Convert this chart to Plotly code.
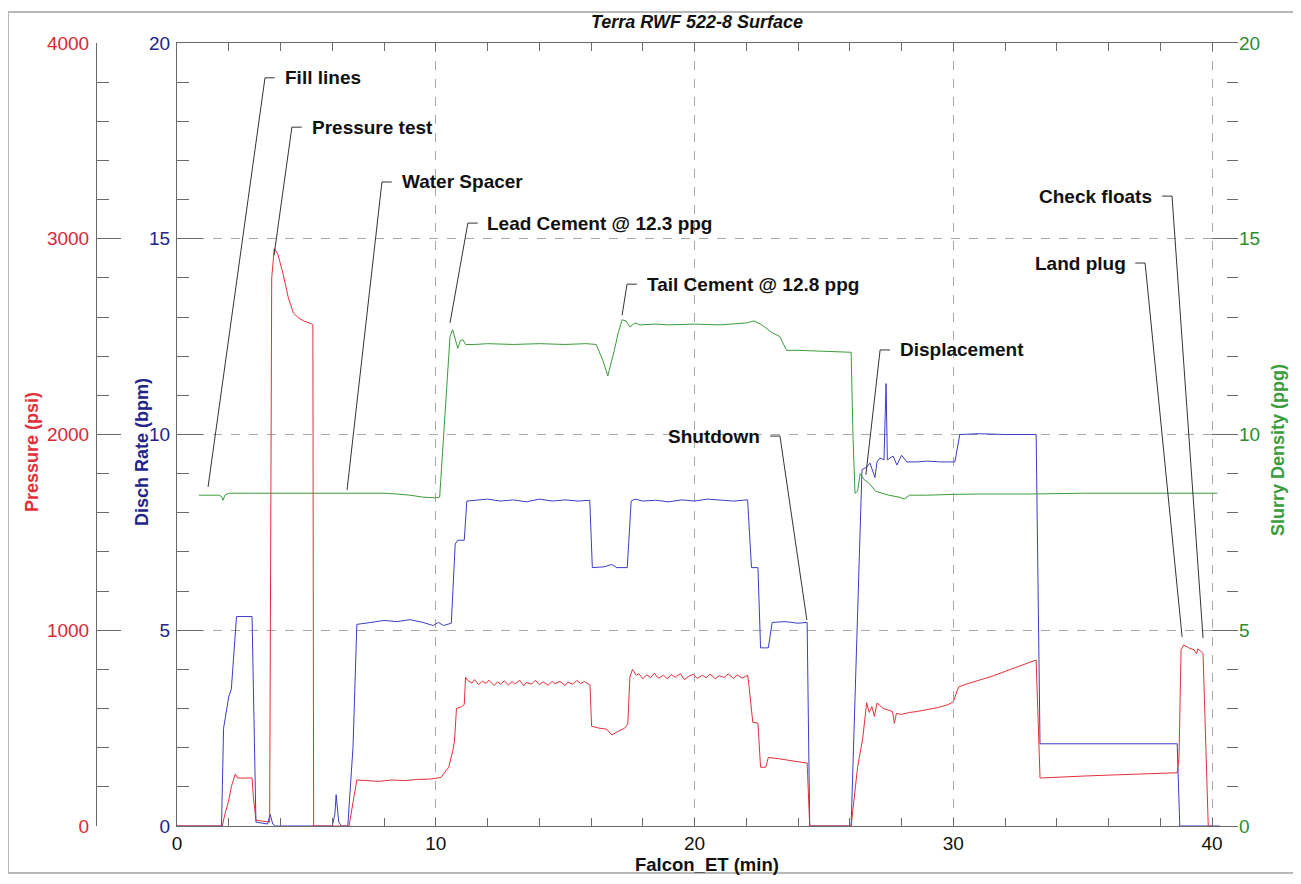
import plotly.graph_objects as go

# ---------------- data ----------------
# Discharge rate, bpm  (time in minutes, value)
RATE = [
    (0.0, 0.0), (1.72, 0.0), (1.8, 2.5), (1.9, 2.9), (2.0, 3.3), (2.1, 3.5), (2.2, 4.5),
    (2.3, 5.35), (2.9, 5.35), (2.97, 3.0), (3.05, 0.1), (3.5, 0.05), (3.6, 0.3), (3.7, 0.05),
    (3.8, 0.0), (6.0, 0.0), (6.1, 0.3), (6.15, 0.8), (6.25, 0.1), (6.35, 0.0), (6.6, 0.0),
    (6.8, 2.0), (6.95, 5.15), (7.5, 5.2), (8.0, 5.25), (8.5, 5.22), (9.0, 5.27), (9.5, 5.2),
    (9.9, 5.12), (10.1, 5.2), (10.3, 5.12), (10.6, 5.18), (10.75, 7.2), (10.85, 7.3),
    (11.1, 7.3), (11.2, 8.3), (11.5, 8.32), (12.0, 8.35), (12.5, 8.3), (13.0, 8.33),
    (13.5, 8.28), (14.0, 8.35), (14.5, 8.3), (15.0, 8.33), (15.5, 8.3), (15.95, 8.32),
    (16.05, 6.6), (16.5, 6.62), (16.8, 6.68), (17.0, 6.6), (17.4, 6.6), (17.55, 8.3),
    (17.7, 8.35), (18.0, 8.3), (18.5, 8.32), (19.0, 8.28), (19.5, 8.33), (20.0, 8.3),
    (20.5, 8.35), (21.0, 8.32), (21.5, 8.3), (22.05, 8.33), (22.2, 6.6), (22.45, 6.6),
    (22.55, 4.55), (22.85, 4.55), (23.0, 5.2), (23.5, 5.22), (24.0, 5.18), (24.35, 5.2),
    (24.45, 0.0), (26.05, 0.0), (26.25, 4.5), (26.47, 9.1), (26.66, 9.17), (26.78, 9.27),
    (26.97, 8.9), (27.05, 9.3), (27.17, 9.4), (27.32, 9.35), (27.4, 11.3), (27.45, 9.35),
    (27.67, 9.45), (27.82, 9.22), (28.0, 9.47), (28.2, 9.3), (28.6, 9.3), (29.0, 9.32),
    (29.5, 9.3), (30.06, 9.3), (30.25, 10.0), (31.0, 10.02), (32.0, 10.0), (33.2, 10.0),
    (33.35, 2.1), (35.0, 2.1), (38.65, 2.1), (38.75, 0.0), (40.3, 0.0),
]

# Treating pressure, psi
PRESSURE = [
    (0.0, 0), (1.75, 0), (1.85, 60), (2.0, 130), (2.1, 200), (2.25, 265), (2.35, 245),
    (2.9, 245), (2.95, 150), (3.05, 30), (3.3, 25), (3.58, 20), (3.66, 2800), (3.76, 2950),
    (3.9, 2920), (4.1, 2820), (4.3, 2700), (4.5, 2620), (4.7, 2595), (4.9, 2580),
    (5.2, 2565), (5.25, 2560), (5.28, 0), (6.65, 0), (6.8, 120), (6.95, 235), (7.3, 232),
    (7.8, 228), (8.3, 235), (8.8, 232), (9.3, 238), (9.8, 240), (10.2, 248), (10.5, 300),
    (10.65, 380), (10.72, 430), (10.8, 600), (11.0, 610), (11.1, 620), (11.15, 760),
    (11.25, 742), (11.4, 730), (11.5, 748), (11.65, 722), (11.8, 740), (11.95, 728),
    (12.05, 745), (12.25, 718), (12.4, 736), (12.5, 724), (12.65, 742), (12.8, 720),
    (12.95, 738), (13.05, 726), (13.25, 744), (13.4, 716), (13.5, 733), (13.7, 725),
    (13.85, 745), (14.0, 722), (14.15, 736), (14.35, 719), (14.5, 740), (14.6, 727),
    (14.8, 738), (15.0, 718), (15.1, 735), (15.3, 724), (15.45, 744), (15.6, 728),
    (15.75, 738), (15.96, 720), (16.02, 510), (16.3, 500), (16.6, 495), (16.8, 465),
    (17.0, 480), (17.3, 500), (17.42, 520), (17.5, 760), (17.6, 800), (17.75, 770),
    (17.85, 778), (18.0, 752), (18.15, 772), (18.3, 758), (18.45, 780), (18.6, 755),
    (18.8, 770), (18.95, 752), (19.1, 774), (19.25, 760), (19.45, 778), (19.6, 748),
    (19.8, 766), (19.95, 775), (20.1, 754), (20.3, 770), (20.45, 757), (20.6, 776),
    (20.8, 752), (20.95, 768), (21.15, 759), (21.3, 777), (21.5, 754), (21.65, 771),
    (21.85, 756), (22.05, 770), (22.1, 720), (22.25, 530), (22.45, 525), (22.55, 300),
    (22.75, 300), (22.85, 350), (23.2, 345), (23.6, 335), (24.0, 328), (24.35, 322),
    (24.45, 0), (26.05, 0), (26.3, 300), (26.5, 450), (26.65, 630), (26.75, 580),
    (26.85, 610), (26.95, 560), (27.05, 628), (27.3, 600), (27.5, 590), (27.65, 585),
    (27.72, 525), (27.8, 575), (28.0, 570), (28.3, 580), (28.6, 585), (29.0, 595),
    (29.4, 605), (29.8, 620), (30.0, 635), (30.2, 710), (30.5, 725), (31.0, 745),
    (31.5, 765), (32.0, 790), (32.5, 815), (33.0, 840), (33.2, 848), (33.35, 245),
    (34.0, 250), (35.0, 255), (36.0, 260), (37.0, 265), (38.0, 268), (38.65, 272),
    (38.72, 350), (38.8, 900), (38.9, 925), (39.1, 910), (39.3, 900), (39.4, 880),
    (39.45, 905), (39.55, 895), (39.65, 880), (39.85, 0), (40.0, 0),
]

# Slurry density, ppg
DENSITY = [
    (0.85, 8.45), (1.2, 8.45), (1.6, 8.45), (1.72, 8.42), (1.78, 8.32), (1.85, 8.45),
    (2.0, 8.5), (3.0, 8.5), (4.0, 8.5), (5.0, 8.5), (6.0, 8.5), (7.0, 8.5), (8.0, 8.5),
    (8.5, 8.48), (9.0, 8.45), (9.5, 8.4), (10.0, 8.38), (10.15, 8.4), (10.3, 10.0),
    (10.45, 11.6), (10.55, 12.5), (10.65, 12.68), (10.75, 12.4), (10.85, 12.2),
    (10.95, 12.4), (11.05, 12.42), (11.15, 12.3), (11.5, 12.3), (12.0, 12.32),
    (13.0, 12.3), (14.0, 12.32), (15.0, 12.3), (15.8, 12.32), (16.2, 12.3), (16.45, 11.9),
    (16.65, 11.5), (16.8, 11.9), (16.9, 12.15), (17.05, 12.6), (17.2, 12.93),
    (17.35, 12.9), (17.5, 12.75), (17.7, 12.85), (17.9, 12.8), (18.5, 12.82),
    (19.0, 12.8), (20.0, 12.82), (21.0, 12.8), (22.0, 12.85), (22.3, 12.9), (22.6, 12.8),
    (23.0, 12.6), (23.3, 12.5), (23.55, 12.15), (24.0, 12.15), (25.0, 12.12),
    (26.05, 12.1), (26.12, 10.0), (26.2, 8.5), (26.3, 8.55), (26.4, 9.0), (26.55, 8.85),
    (26.75, 8.75), (27.0, 8.55), (27.5, 8.45), (27.9, 8.4), (28.1, 8.35), (28.3, 8.45),
    (29.0, 8.45), (30.0, 8.47), (31.0, 8.48), (33.0, 8.48), (35.0, 8.5), (40.2, 8.5),
]

# Event callouts: label, event time (min), event level (in rate-axis units)
EVENT_LABELS = ["Fill lines", "Pressure test", "Water Spacer", "Lead Cement @ 12.3 ppg",
                "Tail Cement @ 12.8 ppg", "Displacement", "Shutdown", "Check floats",
                "Land plug"]
EVENT_TIME = [1.20, 3.75, 6.57, 10.55, 17.20, 26.62, 24.34, 39.65, 38.84]
EVENT_LEVEL = [8.66, 14.58, 8.58, 12.85, 13.05, 8.97, 5.26, 4.80, 4.83]

X_TICKS = [0, 10, 20, 30, 40]
RATE_TICKS = [0, 5, 10, 15, 20]
PRESSURE_TICKS = [0, 1000, 2000, 3000, 4000]
DENSITY_TICKS = [0, 5, 10, 15, 20]

# ---------------- layout helpers (placement of callout text) ----------------
# (bend x, text y, side) in axis units; side 'L' = leader on left of text
CALLOUT_LAYOUT = [
    (3.40, 19.11, "L"), (4.44, 17.85, "L"), (7.92, 16.45, "L"), (11.24, 15.40, "L"),
    (17.39, 13.84, "L"), (27.17, 12.16, "L"), (23.30, 9.96, "R"), (38.45, 16.09, "R"),
    (37.41, 14.38, "R"),
]
HOOK = 0.38      # length of the short horizontal hook, minutes
GAP = 0.3

FONT = "Liberation Sans, Arial, sans-serif"
RED, BLUE, GREEN = "#e2303a", "#3c3cc4", "#3a9c3a"
RED_T, BLUE_T, GREEN_T = "#d42a36", "#23238a", "#2e8c2e"
AXC = "#6a6a6a"
GRID = "#a9a9a9"

# page geometry
OX, OY = 8, 8
W, H = 1285, 868
PL, PR, PT, PB = 96, 1238, 43, 826
PLOT_L = 177


def px(xp):
    return (xp - PL) / (PR - PL)


def py(yp):
    return (PB - yp) / (PB - PT)


fig = go.Figure()

fig.add_trace(go.Scatter(x=[p[0] for p in PRESSURE], y=[p[1] for p in PRESSURE],
                         mode="lines", line=dict(color=RED, width=1), yaxis="y3",
                         name="Pressure"))
fig.add_trace(go.Scatter(x=[p[0] for p in RATE], y=[p[1] for p in RATE],
                         mode="lines", line=dict(color=BLUE, width=1), yaxis="y",
                         name="Disch Rate"))
fig.add_trace(go.Scatter(x=[p[0] for p in DENSITY], y=[p[1] for p in DENSITY],
                         mode="lines", line=dict(color=GREEN, width=1), yaxis="y2",
                         name="Slurry Density"))

shapes = []
annotations = []
for lab, t, v, (bx, ty, side) in zip(EVENT_LABELS, EVENT_TIME, EVENT_LEVEL, CALLOUT_LAYOUT):
    shapes.append(dict(type="line", xref="x", yref="y", x0=t, y0=v, x1=bx, y1=ty,
                       line=dict(color="#333333", width=1)))
    if side == "L":
        hx = bx + HOOK
        shapes.append(dict(type="line", xref="x", yref="y", x0=bx, y0=ty, x1=hx, y1=ty,
                           line=dict(color="#333333", width=1)))
        annotations.append(dict(x=hx + GAP, y=ty, xref="x", yref="y", text="<b>%s</b>" % lab,
                                showarrow=False, xanchor="left", yanchor="middle",
                                font=dict(family=FONT, size=19, color="#111111")))
    else:
        hx = bx - HOOK
        shapes.append(dict(type="line", xref="x", yref="y", x0=hx, y0=ty, x1=bx, y1=ty,
                           line=dict(color="#333333", width=1)))
        annotations.append(dict(x=hx - GAP, y=ty, xref="x", yref="y", text="<b>%s</b>" % lab,
                                showarrow=False, xanchor="right", yanchor="middle",
                                font=dict(family=FONT, size=19, color="#111111")))

# outer frame
shapes.append(dict(type="rect", xref="paper", yref="paper", x0=px(OX), x1=px(1320),
                   y0=py(OY + H - 3), y1=py(12), line=dict(color="#b8b8b8", width=2),
                   layer="below"))

# title and axis titles
annotations.append(dict(x=px(697), y=py(22), xref="paper", yref="paper",
                        text="<b><i>Terra RWF 522-8 Surface</i></b>", showarrow=False,
                        xanchor="center", yanchor="middle",
                        font=dict(family=FONT, size=18, color="#111111")))
annotations.append(dict(x=px(707), y=py(864), xref="paper", yref="paper",
                        text="<b>Falcon_ET (min)</b>", showarrow=False,
                        xanchor="center", yanchor="middle",
                        font=dict(family=FONT, size=18.5, color="#111111")))
annotations.append(dict(x=px(32), y=py(452), xref="paper", yref="paper", textangle=-90,
                        text="<b>Pressure (psi)</b>", showarrow=False,
                        xanchor="center", yanchor="middle",
                        font=dict(family=FONT, size=18, color=RED)))
annotations.append(dict(x=px(142), y=py(452), xref="paper", yref="paper", textangle=-90,
                        text="<b>Disch Rate (bpm)</b>", showarrow=False,
                        xanchor="center", yanchor="middle",
                        font=dict(family=FONT, size=18, color=BLUE_T)))
annotations.append(dict(x=px(1278), y=py(450), xref="paper", yref="paper", textangle=-90,
                        text="<b>Slurry Density (ppg)</b>", showarrow=False,
                        xanchor="center", yanchor="middle",
                        font=dict(family=FONT, size=18, color=GREEN)))

fig.update_layout(
    template="none",
    width=W, height=H,
    margin=dict(l=PL - OX, r=OX + W - PR, t=PT - OY, b=OY + H - PB, pad=0),
    paper_bgcolor="white", plot_bgcolor="white",
    showlegend=False,
    font=dict(family=FONT, size=19, color="#111111"),
    shapes=shapes, annotations=annotations,
    xaxis=dict(domain=[(PLOT_L - PL) / (PR - PL), 1], range=[0, 41], tickvals=X_TICKS,
               ticks="inside", ticklen=8, tickcolor=AXC, tickwidth=1,
               minor=dict(dtick=2, tick0=0, ticks="inside", ticklen=8, tickcolor=AXC,
                          showgrid=False),
               showline=True, linecolor=AXC, linewidth=1, mirror="ticks",
               showgrid=True, gridcolor=GRID, griddash="dash", gridwidth=1,
               zeroline=False, automargin=False,
               tickfont=dict(family=FONT, size=19, color="#111111")),
    yaxis=dict(range=[0, 20], tickvals=RATE_TICKS, ticks="inside", ticklen=26,
               tickcolor=AXC, minor=dict(dtick=1, tick0=0, ticks="inside", ticklen=12,
                                         tickcolor=AXC, showgrid=False),
               showline=True, linecolor=AXC, linewidth=1,
               showgrid=True, gridcolor=GRID, griddash="dash", gridwidth=1,
               zeroline=False, automargin=False, ticklabelstandoff=2,
               tickfont=dict(family=FONT, size=19, color=BLUE_T)),
    yaxis2=dict(range=[0, 20], tickvals=DENSITY_TICKS, overlaying="y", side="right",
                anchor="x", ticks="inside", ticklen=26, tickcolor=AXC,
                minor=dict(dtick=1, tick0=0, ticks="inside", ticklen=11, tickcolor=AXC,
                           showgrid=False),
                showline=False, showgrid=False, zeroline=False, automargin=False,
                ticklabelstandoff=0,
                tickfont=dict(family=FONT, size=19, color=GREEN_T)),
    yaxis3=dict(range=[0, 4000], tickvals=PRESSURE_TICKS, overlaying="y", side="left",
                anchor="free", position=0, ticks="inside", ticklen=24, tickcolor=AXC,
                minor=dict(dtick=200, tick0=0, ticks="inside", ticklen=12, tickcolor=AXC,
                           showgrid=False),
                showline=True, linecolor=AXC, linewidth=1,
                showgrid=False, zeroline=False, automargin=False, ticklabelstandoff=3,
                tickfont=dict(family=FONT, size=19, color=RED_T)),
)

fig.write_html("out.html")
